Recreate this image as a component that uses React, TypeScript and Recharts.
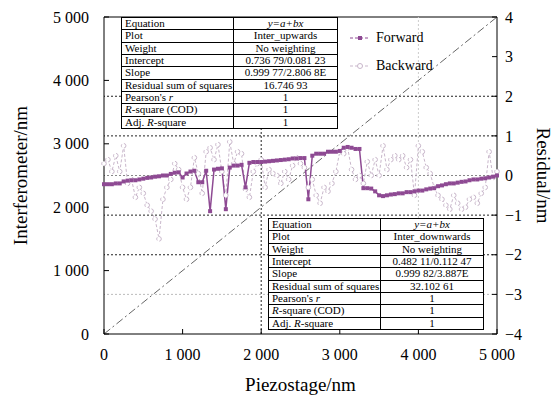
import React from "react";
import { ComposedChart, Line, XAxis, YAxis, ReferenceLine } from "recharts";

// piezostage positions (nm), 50 nm steps
const positions = Array.from({ length: 101 }, (_, i) => i * 50);

// residuals (nm)
const forwardResidual = [
  -0.22, -0.22, -0.22, -0.2, -0.2, -0.15, -0.13, -0.12, -0.12, -0.1,
  -0.08, -0.06, -0.05, -0.03, -0.02, 0.0, 0.0, 0.04, 0.07, 0.08,
  -0.05, 0.05, 0.1, 0.12, -0.17, -0.17, 0.12, -0.9, 0.15, 0.17,
  0.18, -0.85, 0.2, 0.25, 0.25, 0.27, -0.3, 0.32, 0.34, 0.34,
  0.34, 0.35, 0.36, 0.37, 0.38, 0.39, 0.4, 0.41, 0.43, 0.43,
  0.44, 0.44, -0.6, 0.5, 0.55, 0.55, 0.55, 0.6, 0.6, 0.6,
  0.62, 0.7, 0.72, 0.7, 0.67, 0.67, -0.32, -0.32, -0.33, -0.4,
  -0.5, -0.52, -0.5, -0.48, -0.47, -0.45, -0.45, -0.42, -0.42, -0.4,
  -0.38, -0.38, -0.35, -0.33, -0.32, -0.27, -0.25, -0.22, -0.2, -0.2,
  -0.18, -0.16, -0.15, -0.12, -0.1, -0.1, -0.08, -0.07, -0.05, -0.03,
  0.0,
];

const backwardResidual = [
  0.3, 0.4, 0.1, 0.5, 0.1, 0.75, -0.2, -0.1, -0.55, -0.3,
  -0.45, -0.75, -0.9, -1.1, -1.6, -0.6, -0.3, -0.1, 0.3, 0.15,
  -0.3, -0.6, -0.3, 0.45, 0.05, -0.45, 0.6, 0.7, 0.4, 0.78,
  0.1, -0.5, 0.85, 0.3, 0.6, 0.55, -0.35, -0.55, 0.1, 0.3,
  0.4, -0.3, 0.15, 0.05, 0.0, -0.2, 0.1, -0.1, 0.25, 0.45,
  0.3, 0.2, -0.3, -0.1, -0.5, -0.7, -0.3, -0.4, -0.2, 0.1,
  0.6, 0.55, 0.7, 0.15, -0.1, 0.0, -0.2, 0.35, 0.0, 0.4,
  0.0, 0.75, 0.15, 0.4, 0.5, 0.4, 0.5, 0.2, 0.4, -0.5,
  0.75, 0.6, 0.2, 0.05, -0.3, -0.5, -0.6, -0.75, -0.85, -0.5,
  -0.7, -0.85, -0.8, -0.6, -0.55, -0.7, -0.45, -0.3, 0.6, -0.05,
  0.1,
];

// ideal 1:1 line, interferometer vs piezostage
const identityLine = [
  { x: 0, inter: 0 },
  { x: 5000, inter: 5000 },
];

const xTicks = [0, 1000, 2000, 3000, 4000, 5000];
const leftTicks = [0, 1000, 2000, 3000, 4000, 5000];
const rightTicks = [-4, -3, -2, -1, 0, 1, 2, 3, 4];

const upwardsTable: [string, string][] = [
  ["Equation", "y=a+bx"],
  ["Plot", "Inter_upwards"],
  ["Weight", "No weighting"],
  ["Intercept", "0.736 79/0.081 23"],
  ["Slope", "0.999 77/2.806 8E"],
  ["Residual sum of squares", "16.746 93"],
  ["Pearson's r", "1"],
  ["R-square (COD)", "1"],
  ["Adj. R-square", "1"],
];

const downwardsTable: [string, string][] = [
  ["Equation", "y=a+bx"],
  ["Plot", "Inter_downwards"],
  ["Weight", "No weighting"],
  ["Intercept", "0.482 11/0.112 47"],
  ["Slope", "0.999 82/3.887E"],
  ["Residual sum of squares", "32.102 61"],
  ["Pearson's r", "1"],
  ["R-square (COD)", "1"],
  ["Adj. R-square", "1"],
];

const data = positions.map((x, i) => ({
  x,
  forward: forwardResidual[i],
  backward: backwardResidual[i],
}));

const FONT = "'Liberation Serif', 'Times New Roman', Times, 'DejaVu Serif', serif";
const FWD = "#8e4a93";
const BWD = "#c9b7cb";

const fmtThousands = (v: number) =>
  v >= 1000 ? `${Math.floor(v / 1000)} ${String(v % 1000).padStart(3, "0")}` : String(v);
const fmtMinus = (v: number) => (v < 0 ? `\u2212${-v}` : String(v));

// put italics on the symbol parts of the labels
function label(text: string) {
  if (text === "Pearson's r") return <span>Pearson's <i>r</i></span>;
  if (text === "R-square (COD)") return <span><i>R</i>-square (COD)</span>;
  if (text === "Adj. R-square") return <span>Adj. <i>R</i>-square</span>;
  return <span>{text}</span>;
}

function StatsTable({ rows, left, top, width, height, col }: {
  rows: [string, string][];
  left: number; top: number; width: number; height: number; col: number;
}) {
  return (
    <div
      style={{
        position: "absolute", left, top, width, height, boxSizing: "border-box",
        border: "1.5px solid #000", background: "#fff", display: "flex",
        flexDirection: "column", fontFamily: FONT, fontSize: 11, lineHeight: 1, color: "#000",
      }}
    >
      {rows.map(([k, v], i) => (
        <div
          key={i}
          style={{
            flex: 1, display: "flex", alignItems: "center",
            borderBottom: i < rows.length - 1 ? "1px solid #000" : "none",
          }}
        >
          <div style={{ width: col, paddingLeft: 3, boxSizing: "border-box", borderRight: "1px solid #000", height: "100%", display: "flex", alignItems: "center", whiteSpace: "nowrap" }}>
            {label(k)}
          </div>
          <div style={{ flex: 1, textAlign: "center", whiteSpace: "nowrap", fontStyle: v === "y=a+bx" ? "italic" : "normal" }}>
            {v}
          </div>
        </div>
      ))}
    </div>
  );
}

const SquareDot = (p: any) => {
  if (p.cx == null || p.cy == null) return <g key={`f${p.index}`} />;
  return <rect key={`f${p.index}`} x={p.cx - 2} y={p.cy - 2} width={4} height={4} fill={FWD} />;
};

const tickStyle = { fill: "#000", fontSize: 16, fontFamily: FONT };
const titleStyle = { fontSize: 19, fontFamily: FONT, fill: "#000", textAnchor: "middle" as const };

export default function App() {
  return (
    <div style={{ position: "relative", width: 555, height: 396, background: "#fff", fontFamily: FONT }}>
      <style>{`body{margin:0} .recharts-wrapper svg, .recharts-wrapper text{font-family:${FONT};}`}</style>
      <ComposedChart width={555} height={396} data={data} margin={{ top: 17, right: 0, bottom: 0, left: 0 }} style={{ fontFamily: FONT }}>
        <XAxis
          dataKey="x"
          type="number"
          domain={[0, 5000]}
          ticks={xTicks}
          tickFormatter={fmtThousands}
          height={62}
          tickSize={-5}
          tickMargin={20}
          stroke="#000"
          tick={tickStyle}
          label={{ value: "Piezostage/nm", position: "insideBottom", offset: 5, style: titleStyle }}
        />
        <YAxis
          yAxisId="left"
          type="number"
          domain={[0, 5000]}
          ticks={leftTicks}
          tickFormatter={fmtThousands}
          width={104}
          tickSize={-5}
          tickMargin={20}
          stroke="#000"
          tick={tickStyle}
          label={{ value: "Interferometer/nm", angle: -90, position: "insideLeft", offset: 20, style: titleStyle }}
        />
        <YAxis
          yAxisId="right"
          orientation="right"
          type="number"
          domain={[-4, 4]}
          ticks={rightTicks}
          tickFormatter={fmtMinus}
          width={58}
          tickSize={-5}
          tickMargin={13}
          stroke="#000"
          tick={{ ...tickStyle, textAnchor: "start" }}
          label={{ value: "Residual/nm", angle: 90, position: "insideRight", offset: 11, style: titleStyle }}
        />

        <ReferenceLine yAxisId="right" y={4} stroke="#000" />
        <ReferenceLine yAxisId="right" y={2} stroke="#222" strokeDasharray="2 2" />
        <ReferenceLine yAxisId="right" y={1} stroke="#222" strokeDasharray="2 2" />
        <ReferenceLine yAxisId="right" y={0} stroke="#888" strokeDasharray="2 2" />
        <ReferenceLine yAxisId="right" y={-1} stroke="#222" strokeDasharray="2 2" />
        <ReferenceLine yAxisId="right" y={-2} stroke="#222" strokeDasharray="2 2" />
        <ReferenceLine yAxisId="right" y={-3} stroke="#bbb" strokeDasharray="2 2" />
        <ReferenceLine yAxisId="right" x={2000} stroke="#222" strokeDasharray="2 2" />
        <ReferenceLine yAxisId="right" x={4000} stroke="#ccc" strokeDasharray="2 2" />

        <Line
          yAxisId="left"
          data={identityLine}
          dataKey="inter"
          stroke="#666"
          strokeWidth={1}
          strokeDasharray="8 3 2 3"
          dot={false}
          isAnimationActive={false}
        />
        <Line
          yAxisId="right"
          dataKey="backward"
          stroke={BWD}
          strokeWidth={1}
          strokeDasharray="3 2"
          dot={{ r: 2.3, fill: "#fff", stroke: BWD, strokeWidth: 1 }}
          isAnimationActive={false}
        />
        <Line
          yAxisId="right"
          dataKey="forward"
          stroke={FWD}
          strokeWidth={1.5}
          dot={SquareDot}
          isAnimationActive={false}
        />
      </ComposedChart>

      <StatsTable rows={upwardsTable} left={121} top={17} width={217} height={112} col={112} />
      <StatsTable rows={downwardsTable} left={268} top={218} width={216} height={112} col={112} />

      <div style={{ position: "absolute", left: 348, top: 29, fontFamily: FONT, fontSize: 14, color: "#000" }}>
        <div style={{ display: "flex", alignItems: "center", height: 18 }}>
          <svg width={24} height={10}>
            <line x1={2} y1={5} x2={22} y2={5} stroke={FWD} strokeWidth={1} strokeDasharray="3 2" />
            <rect x={10} y={3} width={4} height={4} fill={FWD} />
          </svg>
          <span style={{ marginLeft: 4 }}>Forward</span>
        </div>
        <div style={{ display: "flex", alignItems: "center", height: 18, marginTop: 10 }}>
          <svg width={24} height={10}>
            <line x1={2} y1={5} x2={22} y2={5} stroke={BWD} strokeWidth={1} strokeDasharray="3 2" />
            <circle cx={12} cy={5} r={2.5} fill="#fff" stroke={BWD} />
          </svg>
          <span style={{ marginLeft: 4 }}>Backward</span>
        </div>
      </div>
    </div>
  );
}
